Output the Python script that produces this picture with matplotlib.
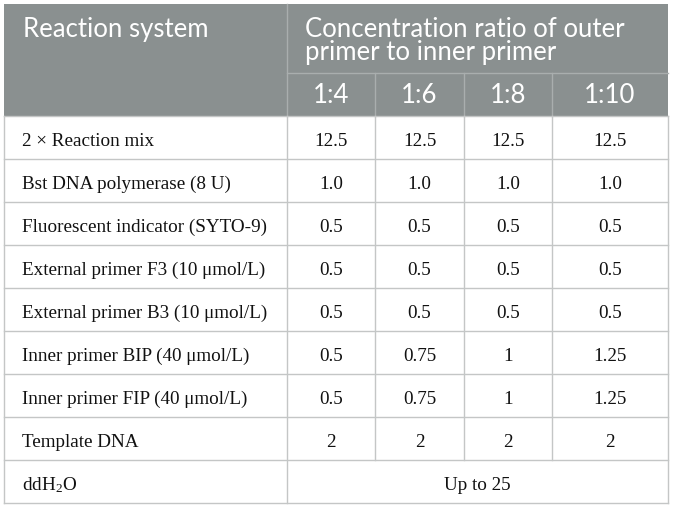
import matplotlib
matplotlib.use("Agg")
import matplotlib.pyplot as plt
from matplotlib.patches import Rectangle

# table content
row_labels = [
    "2 \u00d7 Reaction mix",
    "Bst DNA polymerase (8 U)",
    "Fluorescent indicator (SYTO-9)",
    "External primer F3 (10 \u03bcmol/L)",
    "External primer B3 (10 \u03bcmol/L)",
    "Inner primer BIP (40 \u03bcmol/L)",
    "Inner primer FIP (40 \u03bcmol/L)",
    "Template DNA",
]
ratios = ["1:4", "1:6", "1:8", "1:10"]
col_1_4 = ["12.5", "1.0", "0.5", "0.5", "0.5", "0.5", "0.5", "2"]
col_1_6 = ["12.5", "1.0", "0.5", "0.5", "0.5", "0.75", "0.75", "2"]
col_1_8 = ["12.5", "1.0", "0.5", "0.5", "0.5", "1", "1", "2"]
col_1_10 = ["12.5", "1.0", "0.5", "0.5", "0.5", "1.25", "1.25", "2"]
last_label = "ddH$_2$O"
last_value = "Up to 25"
head_left = "Reaction system"
head_right = ["Concentration ratio of outer", "primer to inner primer"]

plt.rcParams["mathtext.fontset"] = "custom"
plt.rcParams["mathtext.rm"] = "Liberation Serif"
plt.rcParams["mathtext.it"] = "Liberation Serif:italic"
plt.rcParams["mathtext.default"] = "rm"

# geometry in pixels
W, H = 676, 509
xs = [4, 287, 375, 464, 552, 668]
y_top, y_mid, y_head = 4, 73, 116
row_h = 43.0
head_col = "#8a9090"
line_col = "#c4c6c6"
head_font = "Lato"
body_font = "Liberation Serif"
hsize = 18.5
bsize = 13.8
tcol = "#111111"

fig = plt.figure(figsize=(W / 100, H / 100), dpi=100)
ax = fig.add_axes([0, 0, 1, 1])
ax.set_xlim(0, W)
ax.set_ylim(H, 0)
ax.axis("off")

# header background
ax.add_patch(Rectangle((xs[0], y_top), xs[-1] - xs[0], y_head - y_top,
                       facecolor=head_col, edgecolor="none"))
hl = "#a9aeae"
ax.plot([xs[1], xs[1]], [y_top, y_head], color=hl, lw=1)
ax.plot([xs[1], xs[-1]], [y_mid, y_mid], color=hl, lw=1)
for x in xs[2:-1]:
    ax.plot([x, x], [y_mid, y_head], color=hl, lw=1)

ax.text(23, 37, head_left, color="white", fontsize=hsize, family=head_font,
        va="baseline", ha="left")
ax.text(305, 37, head_right[0], color="white", fontsize=hsize,
        family=head_font, va="baseline", ha="left")
ax.text(305, 60, head_right[1], color="white", fontsize=hsize,
        family=head_font, va="baseline", ha="left")
for i, r in enumerate(ratios):
    ax.text((xs[i + 1] + xs[i + 2]) / 2, 103, r, color="white",
            fontsize=hsize, family=head_font, va="baseline", ha="center")

# body
cols = [col_1_4, col_1_6, col_1_8, col_1_10]
n = len(row_labels) + 1
y_bot = y_head + n * row_h
for k in range(n + 1):
    y = y_head + k * row_h
    ax.plot([xs[0], xs[-1]], [y, y], color=line_col, lw=1)
ax.plot([xs[0], xs[0]], [y_head, y_bot], color=line_col, lw=1)
ax.plot([xs[-1], xs[-1]], [y_head, y_bot], color=line_col, lw=1)
ax.plot([xs[1], xs[1]], [y_head, y_bot], color=line_col, lw=1)
for x in xs[2:-1]:
    ax.plot([x, x], [y_head, y_bot - row_h], color=line_col, lw=1)

for j, lab in enumerate(row_labels):
    yb = y_head + j * row_h + 30
    ax.text(22, yb, lab, fontsize=bsize, family=body_font, va="baseline",
            ha="left", color=tcol)
    for i, c in enumerate(cols):
        ax.text((xs[i + 1] + xs[i + 2]) / 2, yb, c[j], fontsize=bsize,
                family=body_font, va="baseline", ha="center", color=tcol)

yb = y_head + (n - 1) * row_h + 30
ax.text(22, yb, last_label, fontsize=bsize, family=body_font, va="baseline",
        ha="left", color=tcol)
ax.text((xs[1] + xs[-1]) / 2, yb, last_value, fontsize=bsize,
        family=body_font, va="baseline", ha="center", color=tcol)

fig.savefig("out.png", dpi=100)
